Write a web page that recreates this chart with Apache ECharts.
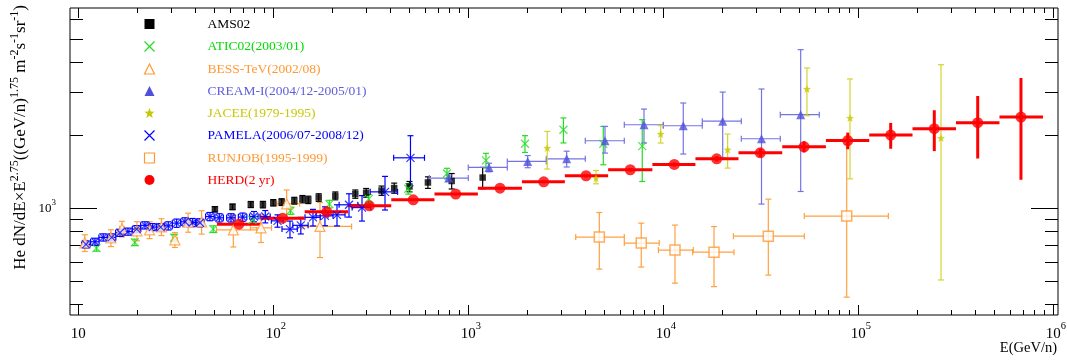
<!DOCTYPE html>
<html>
<head>
<meta charset="utf-8">
<script src="https://cdn.jsdelivr.net/npm/echarts@6/dist/echarts.min.js"></script>
<style>
  html, body { margin: 0; padding: 0; background: #fff; }
  #chart { width: 1067px; height: 361px; }
</style>
</head>
<body>
<div id="chart"></div>
<script>
const FONT = 'Liberation Serif';
const lg = Math.log10;

// axis range (GeV/n and flux units)
const X_MIN = lg(9.07), X_MAX = lg(1.057e6);
const Y_MIN = lg(362), Y_MAX = lg(6700);

// AMS02
const amsE = [50.2, 61.8, 76.7, 88.5, 100, 110.4, 128.2, 141.1, 151.2, 171, 208, 263.4, 299.4, 358.9, 416.9, 499.4, 621, 822, 1185];
const amsF = [989, 1012, 1035, 1034, 1052, 1059, 1072, 1089, 1082, 1106, 1124, 1143, 1157, 1181, 1210, 1228, 1276, 1294, 1337];
const amsErr = [25, 27, 30, 32, 32, 34, 36, 38, 38, 40, 42, 45, 48, 52, 58, 60, 70, 95, 135];

// ATIC02
const aticE = [12.4, 19.5, 31.0, 49.2, 78.2, 122.5, 194.1, 308.9, 492.4, 777.7, 1232, 1953, 3076, 4924, 7800];
const aticF = [684, 722, 755, 819, 893, 975, 1039, 1092, 1202, 1390, 1573, 1844, 2107, 1842, 1803];
const aticErr = [20, 22, 24, 26, 30, 34, 38, 45, 60, 70, 110, 147, 249, 332, 515];

// BESS-TeV
const bessE = [10.8, 14.7, 16.75, 20.0, 23.2, 26.7, 31.3, 36.6, 42.9, 62.4, 86.5, 117.1, 173.6];
const bessF = [719, 754, 821, 806, 813, 837, 740, 874, 878, 813, 829, 1042, 840];
const bessErr = [57, 60, 61, 73, 65, 67, 52, 79, 97, 122, 108, 146, 215];
const bessELo = [10.5, 14.3, 16.3, 19.4, 22.5, 25.9, 30.4, 35.5, 41.6, 51.2, 76.3, 104.4, 140.3];
const bessEHi = [11.1, 15.1, 17.2, 20.6, 23.9, 27.5, 32.2, 37.7, 44.2, 82.2, 98, 136.6, 252.2];

// CREAM-I
const creamEdges = [631, 1000, 1585, 2512, 3981, 6310, 10000, 15850, 25120, 39810, 63100];
const creamE = [794, 1277, 2017, 3196, 5024, 7962, 12660, 20170, 31890, 50650];
const creamF = [1330, 1472, 1558, 1598, 1897, 2209, 2188, 2284, 1933, 2430];
const creamErr = [[40, 40], [60, 60], [90, 90], [120, 120], [210, 276], [353, 355], [516, 528], [675, 729], [894, 1169], [1259, 2078]];

// JACEE
const jaceeE = [2541, 4517, 9699, 21380, 54540, 90660, 265500];
const jaceeF = [1770, 1330, 2022, 1741, 3102, 2355, 1946];
const jaceeErr = [[320, 303], [70, 100], [166, 166], [278, 281], [695, 687], [1034, 1058], [1441, 1962]];

// PAMELA
const pamE = [10.95, 12.18, 13.43, 14.84, 16.36, 17.98, 19.93, 21.98, 24.07, 26.46, 28.94, 31.96, 35.26, 38.61, 42.08, 47.35,
  52.87, 60.70, 69.69, 79.62, 90.99, 105.1, 121.8, 138.4, 159.8, 184.1, 212.2, 244.5, 285.1, 374.1, 505.3];
const pamF = [708, 726, 757, 757, 791, 800, 819, 849, 835, 835, 845, 867, 878, 872, 870, 923,
  912, 912, 918, 923, 923, 886, 819, 849, 916, 929, 938, 1032, 1005, 1167, 1613];
const pamErr = [24, 25, 26, 26, 27, 27, 28, 29, 28, 28, 33, 34, 34, 34, 34, 36,
  36, 36, 36, 45, 54, 52, 65, 67, 72, 83, 94, 114, 121, 185, 377];
const pamDE = [0.05, 0.05, 0.05, 0.05, 0.05, 0.05, 0.05, 0.05, 0.05, 0.05, 0.05, 0.05, 0.05, 0.05, 0.05, 0.05,
  0.05, 0.05, 0.05, 0.05, 0.06, 0.07, 0.09, 0.09, 0.09, 0.10, 0.10, 0.11, 0.11, 0.16, 0.18];

// RUNJOB
const runE = [4698, 7709, 11480, 18200, 34560, 87200];
const runELo = [3556, 6310, 9441, 14150, 22880, 52860];
const runEHi = [6310, 9532, 14250, 23050, 52860, 142600];
const runF = [759, 717, 671, 658, 766, 927];
const runErr = [[199, 200], [146, 150], [181, 180], [184, 181], [237, 323], [498, 899]];

// HERD (2 yr)
const herdEdges = [51.4, 86.5, 144.9, 241.5, 402.7, 671, 1120, 1884, 3128, 5214, 8790, 14620, 24300, 40740,
  68230, 113800, 189700, 316900, 529600, 885200];
const herdE = [66.7, 111.7, 188, 311, 522, 862, 1454, 2437, 4017, 6770, 11390, 18790, 31420, 52700, 88300,
  146600, 245300, 409600, 682600];
const herdF = [858, 909, 965, 1022, 1082, 1143, 1209, 1284, 1360, 1440, 1514, 1598, 1692, 1792, 1900,
  2003, 2127, 2252, 2377];
const herdErr = [8, 9, 10, 11, 12, 13, 15, 17, 20, 24, 30, 40, 65, 95, 150, 245, 408, 650, 1068];

// tick positions (log10 space)
const xMajor = [1, 2, 3, 4, 5, 6];
const xMinor = [];
for (let n = 1; n <= 5; n++) for (let k = 2; k <= 9; k++) xMinor.push(lg(k * Math.pow(10, n)));
const yMajor = [3];
const yMinor = [400, 500, 600, 700, 800, 900, 2000, 3000, 4000, 5000, 6000].map(lg);

// [logE, logF, logElo, logEhi, logFlo, logFhi]
function errData(E, F, dF, eLo, eHi) {
  return E.map((e, i) => {
    const d = dF[i];
    const lo = Array.isArray(d) ? d[0] : d;
    const hi = Array.isArray(d) ? d[1] : d;
    const el = eLo ? eLo[i] : e;
    const eh = eHi ? eHi[i] : e;
    return [lg(e), lg(F[i]), lg(el), lg(eh), lg(F[i] - lo), lg(F[i] + hi)];
  });
}

function errRender(color, width, cap) {
  return function (params, api) {
    const yv = api.value(1);
    const c = api.coord([api.value(0), yv]);
    const xl = api.coord([api.value(2), yv])[0];
    const xh = api.coord([api.value(3), yv])[0];
    const yl = api.coord([api.value(0), api.value(4)])[1];
    const yh = api.coord([api.value(0), api.value(5)])[1];
    const kids = [];
    const seg = (x1, y1, x2, y2) => kids.push({
      type: 'line', shape: { x1, y1, x2, y2 },
      style: { stroke: color, lineWidth: width }
    });
    if (xh - xl > 0.5) {
      seg(xl, c[1], xh, c[1]);
      if (cap) { seg(xl, c[1] - cap, xl, c[1] + cap); seg(xh, c[1] - cap, xh, c[1] + cap); }
    }
    if (yl - yh > 0.5) {
      seg(c[0], yl, c[0], yh);
      if (cap) { seg(c[0] - cap, yl, c[0] + cap, yl); seg(c[0] - cap, yh, c[0] + cap, yh); }
    }
    return { type: 'group', children: kids };
  };
}

const XMARK = 'path://M0,0L10,10M0,10L10,0';
const STAR = 'path://M5,0L6.3,3.4L10,3.6L7.1,6L8.2,9.8L5,7.7L1.8,9.8L2.9,6L0,3.6L3.7,3.4Z';

const series = [];
function addSet(name, data, o) {
  series.push({
    name, type: 'custom', data, encode: { x: 0, y: 1 }, clip: true, silent: true,
    renderItem: errRender(o.bar, o.barWidth || 1.2, o.cap === undefined ? 3 : o.cap),
    itemStyle: { color: o.bar }
  });
  series.push({
    name, type: 'scatter', data: data.map(d => [d[0], d[1]]), silent: true,
    symbol: o.symbol, symbolSize: o.size, itemStyle: o.style
  });
}

addSet('AMS02', errData(amsE, amsF, amsErr), {
  bar: '#000', symbol: 'rect', size: 6.5, style: { color: '#000' }
});
addSet('ATIC02(2003/01)', errData(aticE, aticF, aticErr), {
  bar: '#22dd22', symbol: XMARK, size: 8, style: { color: 'none', borderColor: '#22dd22', borderWidth: 1.2 }
});
addSet('BESS-TeV(2002/08)', errData(bessE, bessF, bessErr, bessELo, bessEHi), {
  bar: '#ffa040', symbol: 'triangle', size: 10, style: { color: '#fff', borderColor: '#ff9933', borderWidth: 1.2 }
});
addSet('CREAM-I(2004/12-2005/01)', errData(creamE, creamF, creamErr, creamEdges.slice(0, -1), creamEdges.slice(1)), {
  bar: '#7373e6', symbol: 'triangle', size: 9, style: { color: '#5050dd' }
});
addSet('JACEE(1979-1995)', errData(jaceeE, jaceeF, jaceeErr), {
  bar: '#d4d430', symbol: STAR, size: 8, style: { color: '#c8c800' }
});
addSet('PAMELA(2006/07-2008/12)', errData(pamE, pamF, pamErr,
  pamE.map((e, i) => e * (1 - pamDE[i])), pamE.map((e, i) => e * (1 + pamDE[i]))), {
  bar: '#0000ff', symbol: XMARK, size: 8, style: { color: 'none', borderColor: '#0000ff', borderWidth: 1.2 }
});
addSet('RUNJOB(1995-1999)', errData(runE, runF, runErr, runELo, runEHi), {
  bar: '#ffa040', symbol: 'rect', size: 10, style: { color: '#fff', borderColor: '#ff9933', borderWidth: 1.5 }
});
addSet('HERD(2 yr)', errData(herdE, herdF, herdErr, herdEdges.slice(0, -1), herdEdges.slice(1)), {
  bar: '#ff0000', barWidth: 3, cap: 0, symbol: 'circle', size: 11, style: { color: '#ff0000' }
});

const legendData = [
  { name: 'AMS02', icon: 'rect', itemStyle: { color: '#000' }, textStyle: { color: '#000' } },
  { name: 'ATIC02(2003/01)', icon: XMARK, itemStyle: { color: 'none', borderColor: '#22dd22', borderWidth: 1.2 }, textStyle: { color: '#00dd00' } },
  { name: 'BESS-TeV(2002/08)', icon: 'triangle', itemStyle: { color: '#fff', borderColor: '#ff9933', borderWidth: 1.2 }, textStyle: { color: '#ff9933' } },
  { name: 'CREAM-I(2004/12-2005/01)', icon: 'triangle', itemStyle: { color: '#5050dd' }, textStyle: { color: '#6060dd' } },
  { name: 'JACEE(1979-1995)', icon: STAR, itemStyle: { color: '#c8c800' }, textStyle: { color: '#c8c800' } },
  { name: 'PAMELA(2006/07-2008/12)', icon: XMARK, itemStyle: { color: 'none', borderColor: '#0000ff', borderWidth: 1.2 }, textStyle: { color: '#0000ff' } },
  { name: 'RUNJOB(1995-1999)', icon: 'rect', itemStyle: { color: '#fff', borderColor: '#ff9933', borderWidth: 1.2 }, textStyle: { color: '#ff9933' } },
  { name: 'HERD(2 yr)', icon: 'circle', itemStyle: { color: '#ff0000' }, textStyle: { color: '#ff0000' } }
];

function xAx(pos, ticks, len, withLabels) {
  return {
    type: 'value', position: pos, min: X_MIN, max: X_MAX,
    axisLine: { show: false, onZero: false },
    splitLine: { show: false },
    axisTick: { show: true, inside: true, length: len, customValues: ticks, lineStyle: { color: '#000', width: 1 } },
    axisLabel: withLabels ? {
      customValues: xMajor, margin: 6, color: '#000',
      formatter: v => {
        const n = Math.round(v);
        return n === 1 ? '{b|10}' : '{h|' + n + '}{b|10}{s|' + n + '}';
      },
      rich: {
        b: { fontFamily: FONT, fontSize: 15, lineHeight: 26, color: '#000' },
        s: { fontFamily: FONT, fontSize: 10.5, lineHeight: 12, verticalAlign: 'top', color: '#000' },
        h: { fontFamily: FONT, fontSize: 10.5, lineHeight: 12, verticalAlign: 'top', color: 'rgba(0,0,0,0)' }
      }
    } : { show: false }
  };
}

function yAx(pos, ticks, len, withLabels) {
  return {
    type: 'value', position: pos, min: Y_MIN, max: Y_MAX,
    axisLine: { show: false, onZero: false },
    splitLine: { show: false },
    axisTick: { show: true, inside: true, length: len, customValues: ticks, lineStyle: { color: '#000', width: 1 } },
    axisLabel: withLabels ? {
      customValues: yMajor, margin: 14, color: '#000',
      formatter: v => '{b|10}{s|' + Math.round(v) + '}',
      rich: {
        b: { fontFamily: FONT, fontSize: 13, lineHeight: 20, color: '#000' },
        s: { fontFamily: FONT, fontSize: 9, lineHeight: 11, verticalAlign: 'top', color: '#000' }
      }
    } : { show: false }
  };
}

const chart = echarts.init(document.getElementById('chart'), null, { renderer: 'canvas' });
chart.setOption({
  animation: false,
  backgroundColor: '#fff',
  grid: {
    left: 70, right: 9, top: 8, bottom: 46,
    show: true, borderColor: '#000', borderWidth: 1, backgroundColor: '#fff',
    outerBoundsMode: 'none'
  },
  xAxis: [xAx('bottom', xMajor, 10, true), xAx('bottom', xMinor, 5, false), xAx('top', xMajor, 10, false), xAx('top', xMinor, 5, false)],
  yAxis: [yAx('left', yMajor, 27, true), yAx('left', yMinor, 13, false), yAx('right', yMajor, 27, false), yAx('right', yMinor, 13, false)],
  legend: {
    left: 142, top: 17, orient: 'vertical', padding: 0,
    itemWidth: 10, itemHeight: 10, itemGap: 8, selectedMode: false,
    textStyle: { fontFamily: FONT, fontSize: 13.5, lineHeight: 14, padding: [0, 0, 0, 48] },
    data: legendData
  },
  graphic: [
    {
      type: 'text', x: 21, y: 5, rotation: Math.PI / 2, silent: true,
      style: {
        text: '{m|He dN/dE×E}{s|2.75}{m|((GeV/n)}{s|1.75}{m| m}{s|-2}{m|s}{s|-1}{m|sr}{s|-1}{m|)}',
        align: 'right', verticalAlign: 'middle', fill: '#000',
        rich: {
          m: { fontFamily: FONT, fontSize: 17, lineHeight: 24, fill: '#000' },
          s: { fontFamily: FONT, fontSize: 12, lineHeight: 13, verticalAlign: 'top', fill: '#000' }
        }
      }
    },
    {
      type: 'text', x: 1057, y: 348, silent: true,
      style: { text: 'E(GeV/n)', align: 'right', verticalAlign: 'middle', fontFamily: FONT, fontSize: 14.5, fill: '#000' }
    }
  ],
  series: series
});
</script>
</body>
</html>
